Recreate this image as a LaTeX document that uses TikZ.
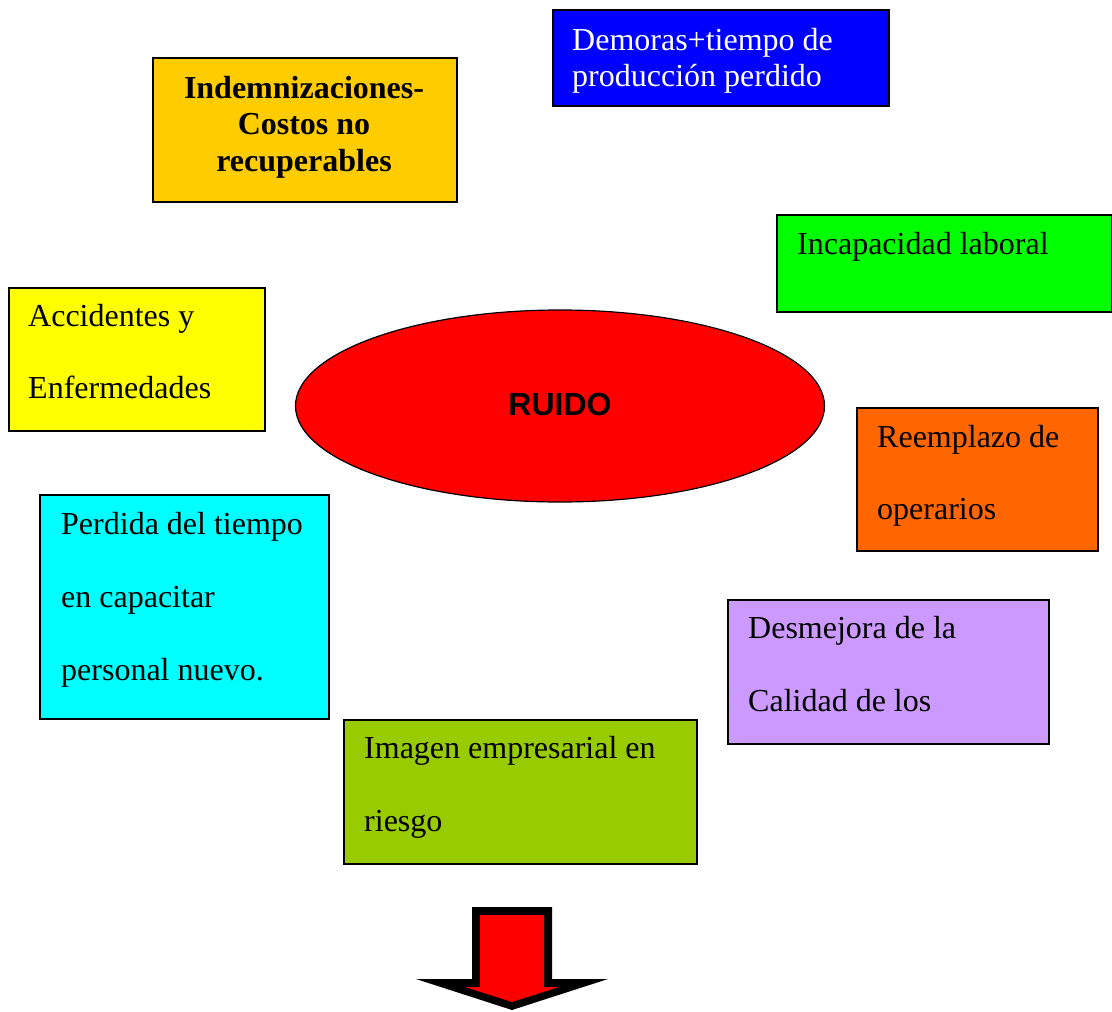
\documentclass[tikz,border=0pt]{standalone}
\usepackage{fontspec}
\setmainfont{Liberation Serif}
\setsansfont{Liberation Sans}
\usetikzlibrary{shapes.geometric}

\definecolor{cblue}{HTML}{0000FF}
\definecolor{cgold}{HTML}{FFCC00}
\definecolor{cgreen}{HTML}{00FF00}
\definecolor{cyellow}{HTML}{FFFF00}
\definecolor{cred}{HTML}{FF0000}
\definecolor{corange}{HTML}{FF6600}
\definecolor{ccyan}{HTML}{00FFFF}
\definecolor{clav}{HTML}{CC99FF}
\definecolor{colive}{HTML}{99CC00}

\begin{document}
\begin{tikzpicture}[x=1pt,y=-1pt,
  box/.style={draw=black, line width=1.5pt, inner sep=0pt, anchor=north west},
  txt/.style={anchor=base west, inner sep=0pt, font=\fontsize{32}{36}\selectfont},
  btxt/.style={anchor=base, inner sep=0pt, font=\bfseries\fontsize{32}{36}\selectfont}]

\useasboundingbox (0,0) rectangle (1112,1012);

% boxes (top-left corner, size)
\node[box, fill=cblue,   minimum width=336, minimum height=96]  (demoras) at (552,9)   {};
\node[box, fill=cgold,   minimum width=304, minimum height=144] (indem)   at (152,57)  {};
\node[box, fill=cgreen,  minimum width=335, minimum height=97]  (incap)   at (776,214) {};
\node[box, fill=cyellow, minimum width=256, minimum height=143] (accid)   at (8,287)   {};
\node[box, fill=corange, minimum width=241, minimum height=143] (reempl)  at (856,407) {};
\node[box, fill=ccyan,   minimum width=289, minimum height=224] (perdida) at (39,494)  {};
\node[box, fill=clav,    minimum width=321, minimum height=144] (desmej)  at (727,599) {};
\node[box, fill=colive,  minimum width=353, minimum height=144] (imagen)  at (343,719) {};

% central ellipse
\node[ellipse, draw=black, line width=1.2pt, fill=cred, inner sep=0pt,
      minimum width=529, minimum height=192] (ruido) at (560,406) {};
\node[anchor=base, inner sep=0pt, font=\sffamily\bfseries\fontsize{32}{36}\selectfont]
      (ruido-t) at (560,415) {RUIDO};

% box texts
\node[txt, text=white] (demoras-1) at (572,50) {Demoras+tiempo de};
\node[txt, text=white] (demoras-2) at (572,86) {producción perdido};

\node[btxt] (indem-1) at (304,98)  {Indemnizaciones-};
\node[btxt] (indem-2) at (304,134) {Costos no};
\node[btxt] (indem-3) at (304,171) {recuperables};

\node[txt] (incap-1) at (797,254) {Incapacidad laboral};

\node[txt] (accid-1) at (28,326) {Accidentes y};
\node[txt] (accid-2) at (28,398) {Enfermedades};

\node[txt] (reempl-1) at (877,447) {Reemplazo de};
\node[txt] (reempl-2) at (877,519) {operarios};

\node[txt] (perdida-1) at (61,534) {Perdida del tiempo};
\node[txt] (perdida-2) at (61,607) {en capacitar};
\node[txt] (perdida-3) at (61,680) {personal nuevo.};

\node[txt] (desmej-1) at (748,638) {Desmejora de la};
\node[txt] (desmej-2) at (748,711) {Calidad de los};

\node[txt] (imagen-1) at (364,758) {Imagen empresarial en};
\node[txt] (imagen-2) at (364,831) {riesgo};

% block arrow pointing down
\fill[black] (472,907) -- (552,907) -- (552,979) -- (608,979) -- (512,1010)
             -- (416,979) -- (472,979) -- cycle;
\fill[cred] (480,915) -- (544,915) -- (544,987) -- (559,987) -- (512,1002)
            -- (465,987) -- (480,987) -- cycle;
\end{tikzpicture}
\end{document}
